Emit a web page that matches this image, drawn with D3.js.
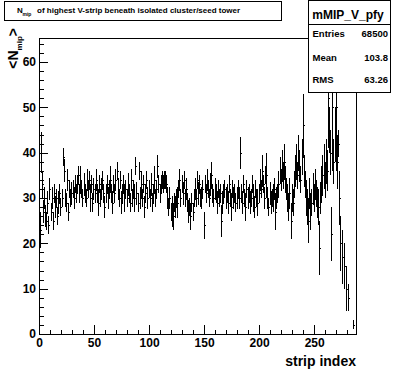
<!DOCTYPE html>
<html>
<head>
<meta charset="utf-8">
<script src="https://cdn.jsdelivr.net/npm/d3@7"></script>
<style>
  body { margin: 0; background: #fff; }
  svg { display: block; }
  text { font-family: "Liberation Sans", Arial, Helvetica, sans-serif; font-weight: bold; }
</style>
</head>
<body>
<svg id="chart" width="396" height="372"></svg>
<script>
// profile mean per strip (null = empty strip)
const values = [
  23, 40, 33, 27, 30, 26, 25, 29, 24, 32,
  27, 30, 25, 31, 28, 30, 26, 29, 31, 28,
  30, 39, 36, 30, 29, 34, 27, 32, 30, 31,
  32, 30, 33, 31, 33, 35, 31, 34, 32, 30,
  33, 31, 30, 34, 32, 34, 30, 33, 29, 32,
  31, 34, 31, 29, 33, 30, 32, 34, 31, 28,
  31, 33, 30, 32, 34, 31, 29, 33, 31, 34,
  36, 32, 30, 34, 29, 31, 33, 30, 32, 30,
  33, 31, 29, 34, 30, 32, 30, 37, 31, 29,
  36, 30, 33, 30, 33, 28, 31, 34, 30, 32,
  30, 33, 29, 31, 34, 30, 32, 37, 33, 31,
  33, 34, 33, 34, 34, 33, 30, 28, 30, 27,
  27, 26, 29, 28, 30, 29, 32, 34, 30, 33,
  31, 34, 30, 32, 29, 27, 28, 26, 29, 27,
  30, 32, 30, 34, 31, 33, 30, 30, 32, 24,
  33, 31, 34, 32, 30, 33, 35, 31, 30, 32,
  31, 29, 32, 30, 31, 25, 29, 31, 32, 30,
  31, 29, 33, 30, 28, 32, 30, 31, 29, 30,
  32, 30, 40, 31, 29, 33, 30, 28, 32, 30,
  31, 29, 30, 33, 30, 28, 32, 30, 29, 31,
  34, 32, 36, 33, 30, 35, 35, 30, 28, 31,
  29, 30, 30, 32, 27, 30, 31, 33, 36, 34,
  37, 35, 38, 34, 32, 30, 28, 31, 25, 30,
  29, 33, 36, 38, 35, 40, 37, 34, 39, 46,
  36, 33, 30, 28, 25, 31, 27, 29, 32, 30,
  33, 31, 29, 28, 19, 30, 33, 35, 37, 34,
  38, 36, 52, 45, 40, 22, 50, 38, 44, 50,
  38, 42, 30, 20, null, 17, null, 15, 10, null,
  8, null, null, null, null, 2, null, null
];

// error on the mean per strip
const errors = [
  4, 4.5, 3, 2.5, 2.5, 2.5, 2, 2.5, 2, 2.5,
  2, 2.5, 2, 2, 2.5, 2, 2, 2.5, 2, 2,
  2, 2, 2.5, 2, 2, 2.5, 2, 2, 2, 2.5,
  2, 2.5, 2, 2, 2, 2, 2, 3, 2, 2,
  2.5, 2, 2, 2.5, 2, 2, 3, 2, 2, 2.5,
  2, 2.5, 2, 3, 2, 2, 2.5, 2, 2, 2.5,
  2, 2, 2.5, 2, 3, 2, 2.5, 2, 2, 2.5,
  2, 2.5, 2, 2, 2.5, 2, 2, 3, 2, 2,
  2.5, 2, 2, 2.5, 2, 2, 3, 2, 2.5, 2,
  2, 2.5, 3, 2, 2, 2.5, 2, 2, 2.5, 2,
  2, 2.5, 2, 2, 3, 2, 2, 2.5, 2, 2,
  2, 2, 2, 2, 2, 2, 2.5, 2, 2.5, 2,
  3.5, 3, 2, 2.5, 2, 3.5, 2, 2.5, 2, 2,
  2.5, 2, 2, 2.5, 2, 2.5, 2, 3, 2, 2,
  2, 2.5, 2, 2, 2.5, 2, 2, 2.5, 2, 3,
  2, 2, 2.5, 2, 2, 2.5, 3, 2, 2, 2.5,
  2, 2.5, 2, 2, 2, 3.5, 2.5, 2, 2, 2.5,
  2, 2.5, 2, 2, 3, 2, 2.5, 2, 2, 2.5,
  2, 2.5, 3.5, 2, 2.5, 2, 2, 3, 2, 2.5,
  2, 2.5, 2, 2, 3, 2.5, 2, 2, 3, 2,
  2.5, 2, 3.5, 2, 2.5, 2, 5, 2.5, 2, 2.5,
  2.5, 2, 3, 2.5, 4, 2.5, 2, 3, 3, 2.5,
  3.5, 3, 4, 3, 2.5, 3, 3, 3.5, 4, 3,
  3, 3, 3.5, 4, 3, 4, 3.5, 3, 4, 7,
  3.5, 3, 4, 4, 5, 3.5, 4, 3, 3.5, 3,
  3.5, 3, 3.5, 4, 6, 3.5, 4, 4.5, 5, 4,
  5, 4.5, 11, 5, 5, 6, 14, 5, 6, 14,
  6, 3, 6, 6, 0, 6, 0, 5, 5, 0,
  3, 0, 0, 0, 0, 1, 0, 0
];

const xTicks = [0, 50, 100, 150, 200, 250];
const yTicks = [0, 10, 20, 30, 40, 50, 60];
const statNames = ['Entries', 'Mean', 'RMS'];
const statValues = ['68500', '103.8', '63.26'];

const svg = d3.select('#chart');
const x = d3.scaleLinear().domain([0, 288]).range([39, 356]);
const y = d3.scaleLinear().domain([0, 65.3]).range([334, 38]);

svg.append('defs').append('clipPath').attr('id', 'clip')
  .append('rect').attr('x', 39).attr('y', 38).attr('width', 317).attr('height', 296);

const pts = values.map((v, i) => ({ i: i, v: v, e: errors[i] })).filter(d => d.v != null);
const px = d => Math.round(x(d.i + 0.5)) + 0.5;

svg.append('g')
  .attr('clip-path', 'url(#clip)')
  .selectAll('path')
  .data(pts)
  .enter().append('path')
  .attr('d', d => 'M' + px(d) + ',' + y(d.v - d.e) + 'V' + y(d.v + d.e) +
                  'M' + (px(d) - 1) + ',' + (Math.round(y(d.v)) + 0.5) + 'H' + (px(d) + 1))
  .attr('fill', 'none')
  .attr('stroke', 'black')
  .attr('stroke-width', 1)
  .style('shape-rendering', 'crispEdges');

// axes (ticks inside the frame)
svg.append('g').attr('transform', 'translate(39,0)')
  .call(d3.axisLeft(y).tickValues(yTicks).tickSize(-9).tickPadding(3).tickFormat(d3.format('d')));
svg.append('g').attr('transform', 'translate(39,0)')
  .call(d3.axisLeft(y).tickValues(d3.range(0, 65, 2)).tickSize(-4.5).tickFormat(''));
svg.append('g').attr('transform', 'translate(0,334)')
  .call(d3.axisBottom(x).tickValues(xTicks).tickSize(-9).tickPadding(4).tickFormat(d3.format('d')));
svg.append('g').attr('transform', 'translate(0,334)')
  .call(d3.axisBottom(x).tickValues(d3.range(0, 290, 10)).tickSize(-4.5).tickFormat(''));

svg.selectAll('.domain').remove();
svg.selectAll('.tick line').attr('stroke', 'black').style('shape-rendering', 'crispEdges');
svg.selectAll('.tick text')
  .attr('fill', 'black')
  .style('font-size', '12px')
  .style('font-family', '"Liberation Sans", Arial, sans-serif')
  .style('font-weight', 'bold');

// frame
svg.append('rect')
  .attr('x', 39.5).attr('y', 38.5).attr('width', 317).attr('height', 296)
  .attr('fill', 'none').attr('stroke', 'black').style('shape-rendering', 'crispEdges');

// axis titles
svg.append('text')
  .attr('x', 356).attr('y', 366)
  .attr('text-anchor', 'end')
  .style('font-size', '14px')
  .text('strip index');

const yt = svg.append('text')
  .attr('transform', 'translate(18,28) rotate(-90)')
  .attr('text-anchor', 'end')
  .style('font-size', '14px');
yt.append('tspan').text('<N');
yt.append('tspan').attr('dy', 4).style('font-size', '8px').text('mip');
yt.append('tspan').attr('dy', -4).text('>');

// title box
svg.append('rect')
  .attr('x', 4.5).attr('y', 1.5).attr('width', 277).attr('height', 19)
  .attr('fill', 'white').attr('stroke', 'black').style('shape-rendering', 'crispEdges');
svg.append('text').attr('x', 17).attr('y', 12.5).style('font-size', '8px').text('N');
svg.append('text').attr('x', 22.5).attr('y', 16).style('font-size', '5px').text('mip');
svg.append('text').attr('x', 37).attr('y', 12.5).style('font-size', '8px')
  .text('of highest V-strip beneath isolated cluster/seed tower');

// stats box
svg.append('rect')
  .attr('x', 308.5).attr('y', 0.5).attr('width', 81.5).attr('height', 91.5)
  .attr('fill', 'white').attr('stroke', 'black').style('shape-rendering', 'crispEdges');
svg.append('line')
  .attr('x1', 308.5).attr('x2', 390).attr('y1', 24.5).attr('y2', 24.5)
  .attr('stroke', 'black').style('shape-rendering', 'crispEdges');
svg.append('text')
  .attr('x', 348).attr('y', 18.5).attr('text-anchor', 'middle')
  .style('font-size', '12px').text('mMIP_V_pfy');

const rowY = [37.3, 60.7, 82.7];
svg.selectAll('.statName').data(statNames).enter().append('text')
  .attr('class', 'statName')
  .attr('x', 312.5).attr('y', (d, i) => rowY[i])
  .style('font-size', '9.5px').text(d => d);
svg.selectAll('.statVal').data(statValues).enter().append('text')
  .attr('class', 'statVal')
  .attr('x', 388).attr('y', (d, i) => rowY[i])
  .attr('text-anchor', 'end')
  .style('font-size', '9.5px').text(d => d);
</script>
</body>
</html>
